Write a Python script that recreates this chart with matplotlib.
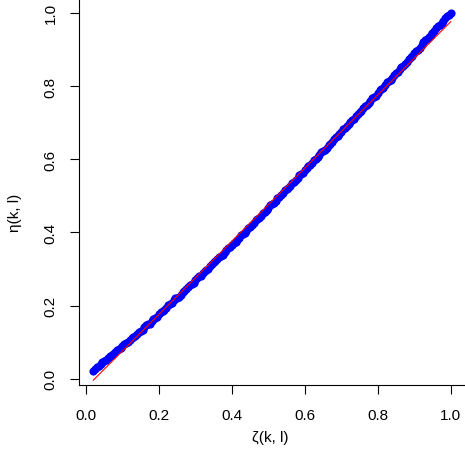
import matplotlib
matplotlib.use("Agg")
import matplotlib.pyplot as plt

# Blue points (zeta, eta)
zeta = [0.02, 0.03, 0.04, 0.05, 0.06, 0.07, 0.08, 0.09, 0.10,
        0.11, 0.12, 0.13, 0.14, 0.15, 0.16, 0.17, 0.18, 0.19, 0.20,
        0.21, 0.22, 0.23, 0.24, 0.25, 0.26, 0.27, 0.28, 0.29, 0.30,
        0.31, 0.32, 0.33, 0.34, 0.35, 0.36, 0.37, 0.38, 0.39, 0.40,
        0.41, 0.42, 0.43, 0.44, 0.45, 0.46, 0.47, 0.48, 0.49, 0.50,
        0.51, 0.52, 0.53, 0.54, 0.55, 0.56, 0.57, 0.58, 0.59, 0.60,
        0.61, 0.62, 0.63, 0.64, 0.65, 0.66, 0.67, 0.68, 0.69, 0.70,
        0.71, 0.72, 0.73, 0.74, 0.75, 0.76, 0.77, 0.78, 0.79, 0.80,
        0.81, 0.82, 0.83, 0.84, 0.85, 0.86, 0.87, 0.88, 0.89, 0.90,
        0.91, 0.92, 0.93, 0.94, 0.95, 0.96, 0.97, 0.98, 0.99, 1.00]
eta = [0.022, 0.031, 0.040, 0.049, 0.058, 0.065, 0.073, 0.082, 0.089,
       0.097, 0.107, 0.114, 0.122, 0.131, 0.141, 0.149, 0.157, 0.167, 0.177,
       0.185, 0.193, 0.204, 0.214, 0.222, 0.230, 0.241, 0.251, 0.259, 0.269,
       0.280, 0.288, 0.297, 0.307, 0.318, 0.327, 0.336, 0.346, 0.357, 0.366,
       0.375, 0.386, 0.397, 0.405, 0.416, 0.427, 0.436, 0.446, 0.457, 0.468,
       0.477, 0.486, 0.498, 0.509, 0.518, 0.527, 0.539, 0.550, 0.559, 0.570,
       0.581, 0.590, 0.601, 0.613, 0.622, 0.632, 0.643, 0.655, 0.664, 0.674,
       0.686, 0.697, 0.706, 0.717, 0.729, 0.739, 0.748, 0.760, 0.771, 0.780,
       0.792, 0.804, 0.813, 0.823, 0.835, 0.847, 0.856, 0.867, 0.880, 0.890,
       0.900, 0.912, 0.925, 0.934, 0.945, 0.958, 0.968, 0.979, 0.991, 0.999]

# Additional blue points lying between the ones above
zeta_b = [0.025, 0.035, 0.045, 0.055, 0.065, 0.075, 0.085, 0.095, 0.105,
          0.115, 0.125, 0.135, 0.145, 0.155, 0.165, 0.175, 0.185, 0.195, 0.205,
          0.215, 0.225, 0.235, 0.245, 0.255, 0.265, 0.275, 0.285, 0.295, 0.305,
          0.315, 0.325, 0.335, 0.345, 0.355, 0.365, 0.375, 0.385, 0.395, 0.405,
          0.415, 0.425, 0.435, 0.445, 0.455, 0.465, 0.475, 0.485, 0.495, 0.505,
          0.515, 0.525, 0.535, 0.545, 0.555, 0.565, 0.575, 0.585, 0.595, 0.605,
          0.615, 0.625, 0.635, 0.645, 0.655, 0.665, 0.675, 0.685, 0.695, 0.705,
          0.715, 0.725, 0.735, 0.745, 0.755, 0.765, 0.775, 0.785, 0.795, 0.805,
          0.815, 0.825, 0.835, 0.845, 0.855, 0.865, 0.875, 0.885, 0.895, 0.905,
          0.915, 0.925, 0.935, 0.945, 0.955, 0.965, 0.975, 0.985, 0.995]
eta_b = [0.028, 0.034, 0.046, 0.052, 0.063, 0.068, 0.079, 0.084, 0.095,
         0.100, 0.112, 0.117, 0.128, 0.134, 0.147, 0.151, 0.164, 0.170, 0.183,
         0.188, 0.201, 0.207, 0.220, 0.224, 0.237, 0.244, 0.257, 0.262, 0.276,
         0.282, 0.294, 0.300, 0.314, 0.321, 0.333, 0.339, 0.353, 0.360, 0.372,
         0.379, 0.393, 0.399, 0.412, 0.420, 0.433, 0.439, 0.453, 0.461, 0.474,
         0.480, 0.494, 0.502, 0.515, 0.521, 0.535, 0.543, 0.556, 0.563, 0.577,
         0.584, 0.597, 0.605, 0.619, 0.626, 0.639, 0.647, 0.661, 0.668, 0.682,
         0.690, 0.703, 0.710, 0.724, 0.733, 0.745, 0.753, 0.767, 0.774, 0.788,
         0.796, 0.810, 0.817, 0.831, 0.839, 0.853, 0.860, 0.875, 0.883, 0.897,
         0.904, 0.920, 0.928, 0.941, 0.950, 0.964, 0.972, 0.986, 0.994]

# Red fitted line endpoints
fit_x = [0.02, 1.00]
fit_y = [-0.004, 0.976]

x_ticks = [0.0, 0.2, 0.4, 0.6, 0.8, 1.0]
y_ticks = [0.0, 0.2, 0.4, 0.6, 0.8, 1.0]
x_label = "\u03b6(k, l)"
y_label = "\u03b7(k, l)"

plt.rcParams['font.family'] = ['Liberation Sans', 'DejaVu Sans']

W, H = 465, 460
fig = plt.figure(figsize=(W / 100, H / 100), dpi=100)
ax = fig.add_axes([79 / W, (H - 386) / H, (W - 79) / W, 386 / H])

all_x = zeta + zeta_b
all_y = eta + eta_b
ax.plot(all_x, all_y, linestyle='none', marker='o', ms=5.9, color='#0000FF',
        markeredgewidth=0)
ax.plot(fit_x, fit_y, color='#FF0000', lw=0.8)

# R-like limits (4% extension)
xr = max(all_x) - min(all_x)
yr = max(all_y) - min(all_y)
ax.set_xlim(min(all_x) - 0.04 * xr, max(all_x) + 0.04 * xr)
ax.set_ylim(min(all_y) - 0.04 * yr, max(all_y) + 0.04 * yr)

ax.set_xticks(x_ticks)
ax.set_yticks(y_ticks)
ax.set_xticklabels([f"{v:.1f}" for v in x_ticks])
ax.set_yticklabels([f"{v:.1f}" for v in y_ticks], rotation=90, va='center')

for s in ['top', 'right']:
    ax.spines[s].set_visible(False)
for s in ['left', 'bottom']:
    ax.spines[s].set_linewidth(0.8)
    ax.spines[s].set_color('black')

ax.tick_params(axis='both', direction='out', length=6.5, width=0.8,
               labelsize=11, colors='black')
ax.tick_params(axis='x', pad=10)
ax.tick_params(axis='y', pad=9)

fig.text(270 / W, 1 - 438 / H, x_label, ha='center', va='center', fontsize=11)
fig.text(15 / W, 1 - 213 / H, y_label, ha='center', va='center', fontsize=11,
         rotation=90)

fig.savefig("out.png", dpi=100)
